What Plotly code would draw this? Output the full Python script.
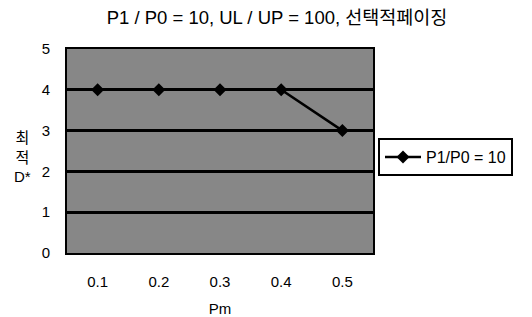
import plotly.graph_objects as go

categories = ["0.1", "0.2", "0.3", "0.4", "0.5"]
values = [4, 4, 4, 4, 3]
series_name = "P1/P0 = 10"
y_ticks = [0, 1, 2, 3, 4, 5]

FONT = "Liberation Sans, Arial, Noto Sans CJK KR, sans-serif"

# page body has an 8px default margin; work in figure coordinates
OFF = 8
W, H = 532 - OFF, 317 - OFF
L, R, T, B = 67 - OFF, 373 - OFF, 49 - OFF, 253 - OFF

fig = go.Figure()
fig.add_trace(go.Scatter(
    x=categories, y=values, name=series_name, mode="lines+markers",
    line=dict(color="black", width=2.5),
    marker=dict(symbol="diamond", size=10, color="black"),
))

fig.update_layout(
    width=W, height=H,
    margin=dict(l=L, r=W - R, t=T, b=H - B, autoexpand=False),
    paper_bgcolor="white",
    plot_bgcolor="#878787",
    font=dict(family=FONT, size=15, color="black"),
    title=dict(text="P1 / P0 = 10, UL / UP = 100, 선택적페이징",
               x=(277 - OFF) / W, xanchor="center", y=1 - (18 - OFF) / H,
               yanchor="middle", font=dict(size=18.5)),
    showlegend=True,
    legend=dict(x=(378 - OFF - L) / (R - L), xanchor="left",
                y=(B - (138 - OFF)) / (B - T), yanchor="top",
                bgcolor="white", bordercolor="black", borderwidth=2,
                font=dict(size=16), itemwidth=36,
                tracegroupgap=0),
    xaxis=dict(type="category", range=[-0.5, 4.5], showgrid=False,
               showline=True, linecolor="black", linewidth=2, mirror=True,
               ticks="", ticklabelstandoff=14, tickfont=dict(size=15),
               automargin=False,
               title=dict(text="Pm", font=dict(size=15), standoff=16)),
    yaxis=dict(range=[0, 5], tickvals=y_ticks, showgrid=True,
               gridcolor="black", gridwidth=2.5, zeroline=False,
               showline=True, linecolor="black", linewidth=2, mirror=True,
               ticks="", ticklabelstandoff=12, tickfont=dict(size=15),
               automargin=False, title=None),
)

fig.add_annotation(text="최<br>적<br>D*", xref="paper", yref="paper",
                   x=-(L - (22 - OFF)) / (R - L), y=(B - (157 - OFF)) / (B - T),
                   xanchor="center", yanchor="middle", showarrow=False,
                   font=dict(size=15), align="center")

fig.write_html("out.html")
